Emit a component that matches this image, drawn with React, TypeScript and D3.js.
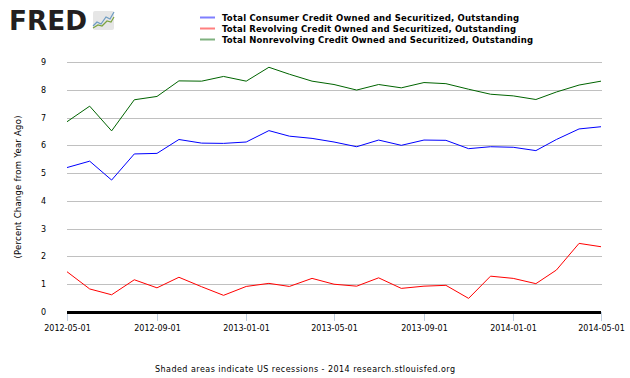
import React from "react";
import * as d3 from "d3";

const dates = [
  "2012-05-01","2012-06-01","2012-07-01","2012-08-01","2012-09-01","2012-10-01","2012-11-01","2012-12-01",
  "2013-01-01","2013-02-01","2013-03-01","2013-04-01","2013-05-01","2013-06-01","2013-07-01","2013-08-01",
  "2013-09-01","2013-10-01","2013-11-01","2013-12-01","2014-01-01","2014-02-01","2014-03-01","2014-04-01","2014-05-01",
];
const consumer = [5.2,5.43,4.75,5.69,5.71,6.21,6.08,6.07,6.12,6.53,6.33,6.25,6.12,5.95,6.19,6.0,6.19,6.18,5.88,5.95,5.93,5.81,6.21,6.59,6.67];
const revolving = [1.45,0.83,0.62,1.16,0.87,1.25,0.91,0.6,0.92,1.03,0.92,1.21,1.0,0.93,1.23,0.85,0.93,0.96,0.49,1.29,1.21,1.02,1.51,2.47,2.35];
const nonrevolving = [6.85,7.41,6.52,7.64,7.76,8.32,8.31,8.48,8.31,8.81,8.56,8.31,8.19,7.99,8.19,8.07,8.26,8.22,8.02,7.84,7.78,7.65,7.92,8.17,8.31];
const yTicks = [0,1,2,3,4,5,6,7,8,9];
const xTickLabels = ["2012-05-01","2012-09-01","2013-01-01","2013-05-01","2013-09-01","2014-01-01","2014-05-01"];
const seriesNames = [
  "Total Consumer Credit Owned and Securitized, Outstanding",
  "Total Revolving Credit Owned and Securitized, Outstanding",
  "Total Nonrevolving Credit Owned and Securitized, Outstanding",
];
const seriesColors = ["#0000ff", "#ff0000", "#006400"];
const legendWidths = [297, 294, 311];

export default function App() {
  const W = 630, H = 378;
  const parse = d3.utcParse("%Y-%m-%d");
  const ds = dates.map((d) => parse(d)!);
  const x = d3.scaleUtc().domain([ds[0], ds[ds.length - 1]]).range([67, 601]);
  const y = d3.scaleLinear().domain([0, 9]).range([312, 62]);
  const series = [consumer, revolving, nonrevolving];
  const line = (vals: number[]) =>
    d3.line<number>().x((_, i) => x(ds[i])).y((v) => y(v))(vals) || "";
  const font = "'DejaVu Sans', sans-serif";
  return (
    <svg width={W} height={H} style={{ position: "absolute", left: 0, top: 0, background: "#fff" }} fontFamily={font}>
      {/* logo */}
      <text x={9} y={30} fontSize={26} fontWeight="bold" fill="#231f20" fontFamily="'DejaVu Sans', sans-serif" textLength={78} lengthAdjust="spacingAndGlyphs">FRED</text>
      <g>
        <rect x={93} y={11} width={21} height={19} rx={2} fill="#e6e6e6" />
        <polyline points="93,26 97,22 101,24 106,17 110,19 114,12" fill="none" stroke="#6c9bc2" strokeWidth={1.2} />
        <polyline points="93,28 98,25 102,26 107,21 111,22 114,17" fill="none" stroke="#7ba33f" strokeWidth={1.2} />
      </g>
      {/* legend */}
      {seriesNames.map((n, i) => (
        <g key={n}>
          <line x1={200} x2={215} y1={17.5 + i * 11} y2={17.5 + i * 11} stroke={seriesColors[i]} strokeOpacity={0.5} strokeWidth={2} />
          <text x={222} y={21 + i * 11} fontSize={8.5} fontWeight="bold" fill="#000" textLength={legendWidths[i]} lengthAdjust="spacing">{n}</text>
        </g>
      ))}
      {/* gridlines */}
      {yTicks.filter((t) => t > 0).map((t) => (
        <line key={t} x1={67} x2={602} y1={Math.round(y(t)) + 0.5} y2={Math.round(y(t)) + 0.5} stroke="#c0c0c0" strokeWidth={1} />
      ))}
      {yTicks.map((t) => (
        <text key={"yl" + t} x={46} y={y(t) + 3} fontSize={8} textAnchor="end" fill="#000">{t}</text>
      ))}
      <text transform={`translate(21,187) rotate(-90)`} fontSize={8.5} textAnchor="middle" fill="#000" textLength={143} lengthAdjust="spacing">(Percent Change from Year Ago)</text>
      {/* x ticks */}
      {xTickLabels.map((l) => {
        const xx = Math.round(x(parse(l)!)) + 0.5;
        return (
          <g key={l}>
            <line x1={xx} x2={xx} y1={312} y2={321} stroke="#c0cfe0" strokeWidth={1} />
            <text x={xx} y={331} fontSize={8} textAnchor="middle" fill="#000">{l}</text>
          </g>
        );
      })}
      {/* series */}
      {series.map((s, i) => (
        <path key={i} d={line(s)} fill="none" stroke={seriesColors[i]} strokeWidth={1} />
      ))}
      {/* x axis */}
      <line x1={67} x2={601} y1={312.5} y2={312.5} stroke="#000" strokeWidth={3} />
      <text x={155} y={372} fontSize={8} fill="#000" textLength={300} lengthAdjust="spacing">Shaded areas indicate US recessions - 2014 research.stlouisfed.org</text>
    </svg>
  );
}
